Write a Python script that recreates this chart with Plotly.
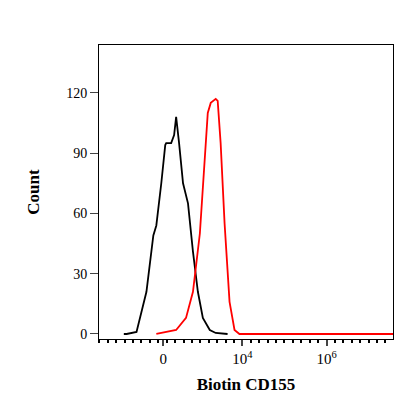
import plotly.graph_objects as go

black_x = [1.18, 1.247, 1.482, 1.718, 1.882, 1.953, 2.071, 2.165, 2.188, 2.306, 2.376, 2.424, 2.494, 2.588, 2.706, 2.824, 2.941, 3.059, 3.224, 3.365, 3.647]
black_y = [0, 0, 1, 21, 49, 54, 75, 94, 95, 95, 99, 108, 95, 75, 65, 41, 21, 8, 2, 0.5, 0]
red_x = [1.953, 2.424, 2.659, 2.824, 2.988, 3.106, 3.176, 3.247, 3.365, 3.412, 3.482, 3.576, 3.694, 3.812, 3.929, 7.58]
red_y = [0, 2, 8, 21, 50, 85, 110, 115, 117, 116, 95, 55, 16, 2, 0, 0]
xtick_vals = [2.12, 4, 6]
xtick_text = ["0", "10<sup>4</sup>", "10<sup>6</sup>"]
ytick_vals = [0, 30, 60, 90, 120]

fig = go.Figure()
fig.add_trace(go.Scatter(x=black_x, y=black_y, mode="lines", line=dict(color="black", width=1.8)))
fig.add_trace(go.Scatter(x=red_x, y=red_y, mode="lines", line=dict(color="red", width=1.8)))
fig.update_layout(
    width=416, height=416, showlegend=False,
    margin=dict(l=91, r=31, t=37, b=85),
    plot_bgcolor="white", paper_bgcolor="white",
    font=dict(family="Liberation Serif", size=14, color="black"),
)
fig.update_xaxes(range=[0.59, 7.58], showgrid=False, zeroline=False, showline=True, linecolor="black",
                 linewidth=1, mirror=True, ticks="outside", ticklen=6, tickwidth=2,
                 tickvals=xtick_vals, ticktext=xtick_text, tickfont=dict(size=15),
                 minor=dict(ticks="outside", ticklen=3, dtick=0.2, tick0=0, tickcolor="black"),
                 title=dict(text="<b>Biotin CD155</b>", font=dict(size=17), standoff=12))
fig.update_yaxes(range=[-2.5, 143.8], showgrid=False, zeroline=False, showline=True, linecolor="black",
                 linewidth=1, mirror=True, ticks="outside", ticklen=8,
                 tickvals=ytick_vals,
                 title=dict(text="<b>Count</b>", font=dict(size=17), standoff=22))
fig.write_html("out.html")
